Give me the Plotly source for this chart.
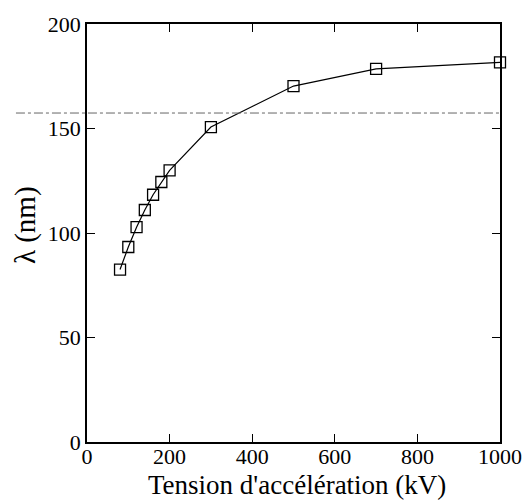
import plotly.graph_objects as go

voltage_kv = [80, 100, 120, 140, 160, 180, 200, 300, 500, 700, 1000]
wavelength_nm = [82.5, 93.3, 102.8, 111, 118.3, 124.4, 130, 150.7, 170.3, 178.5, 181.6]
ref_line_nm = 157.4
x_ticks = [0, 200, 400, 600, 800, 1000]
y_ticks = [0, 50, 100, 150, 200]

fig = go.Figure()
fig.add_trace(go.Scatter(
    x=voltage_kv, y=wavelength_nm, mode="lines+markers",
    line=dict(color="black", width=1.2),
    marker=dict(symbol="square-open", size=11, color="black", line=dict(width=1.3)),
    showlegend=False, cliponaxis=False,
))
fig.add_shape(type="line", xref="paper", yref="y", x0=-0.172, x1=1.0,
              y0=ref_line_nm, y1=ref_line_nm,
              line=dict(color="#666666", width=1, dash="dashdot"))

axis_common = dict(
    showgrid=False, zeroline=False, showline=True, linecolor="black", linewidth=1.5,
    mirror="ticks", ticks="inside", ticklen=8, tickwidth=1.2, tickcolor="black",
    tickfont=dict(family="Liberation Serif", size=22, color="black"),
    automargin=False,
)
fig.update_xaxes(range=[0, 1000], tickvals=x_ticks, ticklabelstandoff=-6, **axis_common)
fig.update_yaxes(range=[0, 200], tickvals=y_ticks, **axis_common)

fig.add_annotation(text="Tension d'accélération (kV)", xref="paper", yref="paper",
                   x=0.508, y=-0.104, xanchor="center", yanchor="middle", showarrow=False,
                   font=dict(family="Liberation Serif", size=27, color="black"))
fig.add_annotation(text="λ (nm)", xref="paper", yref="paper", textangle=-90,
                   x=-0.150, y=0.519, xanchor="center", yanchor="middle", showarrow=False,
                   font=dict(family="Liberation Serif", size=29, color="black"))

fig.update_layout(width=523, height=500, plot_bgcolor="white", paper_bgcolor="white",
                  margin=dict(l=87, r=23, t=24, b=58))
fig.write_html("out.html", config={"displayModeBar": False},
               post_script="document.body.style.margin='0px';")
